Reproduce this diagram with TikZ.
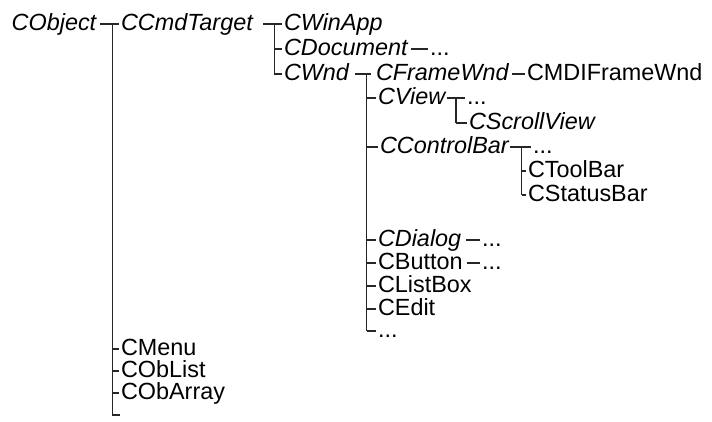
\documentclass[tikz,border=0pt]{standalone}
\usepackage{fontspec}
\setmainfont{Liberation Sans}
\begin{document}
\begin{tikzpicture}[x=1pt,y=-1pt,
  cls/.style={anchor=west, inner sep=0pt, outer sep=0pt, text height=15pt, text depth=3pt,
              font=\fontsize{23.4}{28}\selectfont},
  abs/.style={cls, font=\fontsize{23.4}{28}\selectfont\itshape},
  link/.style={line width=1.1pt, draw=black!85},
  tick/.style={link, shorten >=2.5pt},
  bar/.style={link, shorten <=3.5pt, shorten >=2.5pt}]
\useasboundingbox (0,0) rectangle (712,421);

% class names
\node[abs] (obj)   at (11.7,24)  {CObject};
\node[abs] (cmd)   at (121,24)   {CCmdTarget};
\node[abs] (app)   at (284,24)   {CWinApp};
\node[abs] (doc)   at (284,49)   {CDocument};
\node[cls] (docx)  at (430,49)   {...};
\node[abs] (wnd)   at (284,74)   {CWnd};
\node[abs] (frm)   at (376,74)   {CFrameWnd};
\node[cls] (mdi)   at (527,74)   {CMDIFrameWnd};
\node[abs] (view)  at (378,98)   {CView};
\node[cls] (viewx) at (467,98)   {...};
\node[abs] (scr)   at (469,123)  {CScrollView};
\node[abs] (cbar)  at (380,147)  {CControlBar};
\node[cls] (cbarx) at (533,147)  {...};
\node[cls] (tool)  at (528,171)  {CToolBar};
\node[cls] (stat)  at (528,195)  {CStatusBar};
\node[abs] (dlg)   at (378,240)  {CDialog};
\node[cls] (dlgx)  at (482,240)  {...};
\node[cls] (btn)   at (378,263)  {CButton};
\node[cls] (btnx)  at (482,263)  {...};
\node[cls] (lst)   at (378,286)  {CListBox};
\node[cls] (edt)   at (378,309)  {CEdit};
\node[cls] (wndx)  at (378,331)  {...};
\node[cls] (menu)  at (121,349)  {CMenu};
\node[cls] (olist) at (121,371)  {CObList};
\node[cls] (oarr)  at (121,393)  {CObArray};

% spine positions of the tree
\coordinate (s1) at (112.7,24);
\coordinate (s2) at (274.3,24);
\coordinate (s3) at (366.7,74);
\coordinate (s4) at (456,98);
\coordinate (s5) at (521.7,147);
\coordinate (objend) at (120,415);

% CObject
\draw[bar] (obj.east) -- (cmd.west);
\draw[link] (s1) -- (s1 |- objend) -- (objend);
\draw[tick] (s1 |- menu.west) -- (menu.west);
\draw[tick] (s1 |- olist.west) -- (olist.west);
\draw[tick] (s1 |- oarr.west) -- (oarr.west);

% CCmdTarget
\draw[link, shorten >=2.5pt] ([xshift=10pt]cmd.east) -- (app.west);
\draw[link] (s2) -- (s2 |- wnd.west);
\draw[tick] (s2 |- doc.west) -- (doc.west);
\draw[tick] (s2 |- wnd.west) -- (wnd.west);
\draw[bar] (doc.east) -- (docx.west);

% CWnd
\draw[link, shorten >=5pt] ([xshift=6pt]wnd.east) -- (frm.west);
\draw[link] (s3) -- (s3 |- wndx.west);
\draw[tick] (s3 |- view.west) -- (view.west);
\draw[tick] (s3 |- cbar.west) -- (cbar.west);
\draw[tick] (s3 |- dlg.west) -- (dlg.west);
\draw[tick] (s3 |- btn.west) -- (btn.west);
\draw[tick] (s3 |- lst.west) -- (lst.west);
\draw[tick] (s3 |- edt.west) -- (edt.west);
\draw[tick] (s3 |- wndx.west) -- (wndx.west);
\draw[bar] (frm.east) -- (mdi.west);

% CView
\draw[link, shorten <=1.5pt, shorten >=2pt] (view.east) -- (viewx.west);
\draw[link] (s4) -- (s4 |- scr.west);
\draw[tick] (s4 |- scr.west) -- (scr.west);

% CControlBar
\draw[link, shorten <=1.5pt, shorten >=2.5pt] (cbar.east) -- (cbarx.west);
\draw[link] (s5) -- (s5 |- stat.west);
\draw[tick] (s5 |- tool.west) -- (tool.west);
\draw[tick] (s5 |- stat.west) -- (stat.west);

% CDialog, CButton
\draw[link, shorten <=5pt, shorten >=2pt] (dlg.east) -- (dlgx.west);
\draw[link, shorten <=4pt, shorten >=2pt] (btn.east) -- (btnx.west);
\end{tikzpicture}
\end{document}
